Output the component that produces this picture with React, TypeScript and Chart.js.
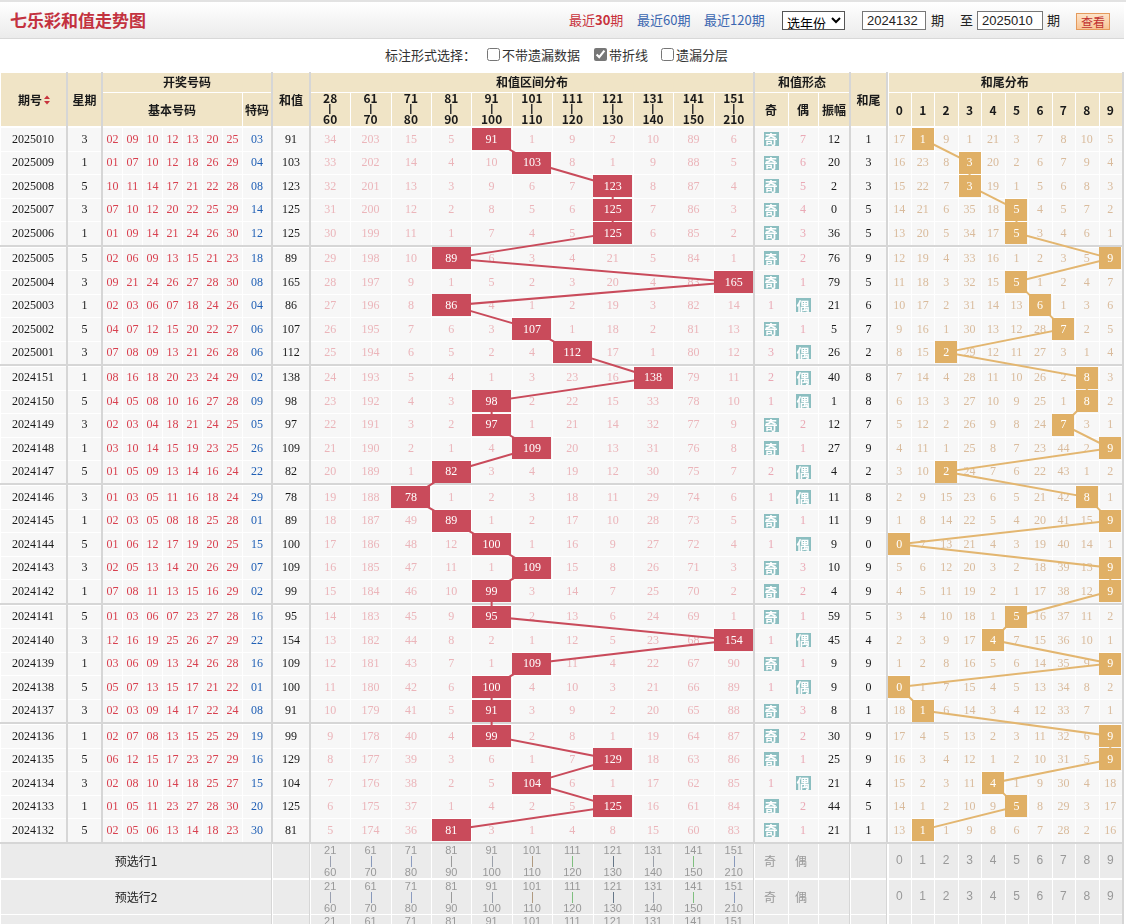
import React, { useEffect, useRef } from "react";
import { Chart, registerables } from "chart.js";

Chart.register(...registerables);

/* ================= DATA ================= */
const periods = ["2025010","2025009","2025008","2025007","2025006","2025005","2025004","2025003","2025002","2025001","2024151","2024150","2024149","2024148","2024147","2024146","2024145","2024144","2024143","2024142","2024141","2024140","2024139","2024138","2024137","2024136","2024135","2024134","2024133","2024132"];
const weekdays = [3,1,5,3,1,5,3,1,5,3,1,5,3,1,5,3,1,5,3,1,5,3,1,5,3,1,5,3,1,5];
const basicNumbers = [
  ["02","09","10","12","13","20","25"],
  ["01","07","10","12","18","26","29"],
  ["10","11","14","17","21","22","28"],
  ["07","10","12","20","22","25","29"],
  ["01","09","14","21","24","26","30"],
  ["02","06","09","13","15","21","23"],
  ["09","21","24","26","27","28","30"],
  ["02","03","06","07","18","24","26"],
  ["04","07","12","15","20","22","27"],
  ["07","08","09","13","21","26","28"],
  ["08","16","18","20","23","24","29"],
  ["04","05","08","10","16","27","28"],
  ["02","03","04","18","21","24","25"],
  ["03","10","14","15","19","23","25"],
  ["01","05","09","13","14","16","24"],
  ["01","03","05","11","16","18","24"],
  ["02","03","05","08","18","25","28"],
  ["01","06","12","17","19","20","25"],
  ["02","05","13","14","20","26","29"],
  ["07","08","11","13","15","16","29"],
  ["01","03","06","07","23","27","28"],
  ["12","16","19","25","26","27","29"],
  ["03","06","09","13","24","26","28"],
  ["05","07","13","15","17","21","22"],
  ["02","03","09","14","17","22","24"],
  ["02","07","08","13","15","25","29"],
  ["06","12","15","17","23","27","29"],
  ["02","08","10","14","18","25","27"],
  ["01","05","11","23","27","28","30"],
  ["02","05","06","13","14","18","23"],
];
const specialNumbers = ["03","04","08","14","12","18","08","04","06","06","02","09","05","26","22","29","01","15","07","02","16","22","16","01","08","19","16","15","20","30"];
const sums = [91,103,123,125,125,89,165,86,107,112,138,98,97,109,82,78,89,100,109,99,95,154,109,100,91,99,129,104,125,81];

const intervalRanges = [[28,60],[61,70],[71,80],[81,90],[91,100],[101,110],[111,120],[121,130],[131,140],[141,150],[151,210]];
const presetIntervalLabels = [["21","60"],["61","70"],["71","80"],["81","90"],["91","100"],["101","110"],["111","120"],["121","130"],["131","140"],["141","150"],["151","210"]];

// omission values of the sum-interval columns (0 = hit, the sum is shown there)
const intervalMiss = [
  [34,203,15,5,0,1,9,2,10,89,6],
  [33,202,14,4,10,0,8,1,9,88,5],
  [32,201,13,3,9,6,7,0,8,87,4],
  [31,200,12,2,8,5,6,0,7,86,3],
  [30,199,11,1,7,4,5,0,6,85,2],
  [29,198,10,0,6,3,4,21,5,84,1],
  [28,197,9,1,5,2,3,20,4,83,0],
  [27,196,8,0,4,1,2,19,3,82,14],
  [26,195,7,6,3,0,1,18,2,81,13],
  [25,194,6,5,2,4,0,17,1,80,12],
  [24,193,5,4,1,3,23,16,0,79,11],
  [23,192,4,3,0,2,22,15,33,78,10],
  [22,191,3,2,0,1,21,14,32,77,9],
  [21,190,2,1,4,0,20,13,31,76,8],
  [20,189,1,0,3,4,19,12,30,75,7],
  [19,188,0,1,2,3,18,11,29,74,6],
  [18,187,49,0,1,2,17,10,28,73,5],
  [17,186,48,12,0,1,16,9,27,72,4],
  [16,185,47,11,1,0,15,8,26,71,3],
  [15,184,46,10,0,3,14,7,25,70,2],
  [14,183,45,9,0,2,13,6,24,69,1],
  [13,182,44,8,2,1,12,5,23,68,0],
  [12,181,43,7,1,0,11,4,22,67,90],
  [11,180,42,6,0,4,10,3,21,66,89],
  [10,179,41,5,0,3,9,2,20,65,88],
  [9,178,40,4,0,2,8,1,19,64,87],
  [8,177,39,3,6,1,7,0,18,63,86],
  [7,176,38,2,5,0,6,1,17,62,85],
  [6,175,37,1,4,2,5,0,16,61,84],
  [5,174,36,0,3,1,4,8,15,60,83],
];
const oddMiss = [0,0,0,0,0,0,0,1,0,3,2,1,0,0,2,1,0,1,0,0,0,1,0,1,0,0,0,1,0,0];
const evenMiss = [7,6,5,4,3,2,1,0,1,0,0,0,2,1,0,0,1,0,3,2,1,0,1,0,3,2,1,0,2,1];
const amplitudes = [12,20,2,0,36,76,79,21,5,26,40,1,12,27,4,11,11,9,10,4,59,45,9,9,8,30,25,21,44,21];
const tailMiss = [
  [17,0,9,1,21,3,7,8,10,5],
  [16,23,8,0,20,2,6,7,9,4],
  [15,22,7,0,19,1,5,6,8,3],
  [14,21,6,35,18,0,4,5,7,2],
  [13,20,5,34,17,0,3,4,6,1],
  [12,19,4,33,16,1,2,3,5,0],
  [11,18,3,32,15,0,1,2,4,7],
  [10,17,2,31,14,13,0,1,3,6],
  [9,16,1,30,13,12,28,0,2,5],
  [8,15,0,29,12,11,27,3,1,4],
  [7,14,4,28,11,10,26,2,0,3],
  [6,13,3,27,10,9,25,1,0,2],
  [5,12,2,26,9,8,24,0,3,1],
  [4,11,1,25,8,7,23,44,2,0],
  [3,10,0,24,7,6,22,43,1,2],
  [2,9,15,23,6,5,21,42,0,1],
  [1,8,14,22,5,4,20,41,15,0],
  [0,7,13,21,4,3,19,40,14,1],
  [5,6,12,20,3,2,18,39,13,0],
  [4,5,11,19,2,1,17,38,12,0],
  [3,4,10,18,1,0,16,37,11,2],
  [2,3,9,17,0,7,15,36,10,1],
  [1,2,8,16,5,6,14,35,9,0],
  [0,1,7,15,4,5,13,34,8,2],
  [18,0,6,14,3,4,12,33,7,1],
  [17,4,5,13,2,3,11,32,6,0],
  [16,3,4,12,1,2,10,31,5,0],
  [15,2,3,11,0,1,9,30,4,18],
  [14,1,2,10,9,0,8,29,3,17],
  [13,0,1,9,8,6,7,28,2,16],
];
const tailDigits = ["0","1","2","3","4","5","6","7","8","9"];
const presetRows = ["预选行1", "预选行2", "预选行3"];

/* ================= LAYOUT / STYLE ================= */
const W = 1126;
const H = 852; // canvas height (page y 72 .. 924)
const ROW0 = 67; // first data row centre in canvas px
const ROW_H = 23.5;
const GROUP_GAP = 0.08;
const IV_X0 = 310, IV_W = 40.36;
const TL_X0 = 887.5, TL_W = 23.45;
const COL = {
  period: [0, 67], week: [67, 102], basic0: 102, basicW: 20, special: [242, 272], sum: [272, 310],
  odd: [754, 788], even: [788, 818], amp: [818, 850], tail: [850, 887], right: 1122,
};
const FOOT_TOPS = [771, 807, 842];
const FOOT_H = 35;

const C = {
  headBg: "#f0e4c6", cellBg: "#f7f7f7", footBg: "#ebebeb", sep: "#d6d6d6",
  red: "#c94b5b", gold: "#e0b066", goldLine: "#e3b670", teal: "#8bbec0",
  ivMiss: "#ebb5ba", tlMiss: "#d9bb9c", oeMiss: "#eaa9b5", basic: "#d8404f", special: "#1f5fb5", text: "#1a1a1a",
};
const F_NUM = '12px "Liberation Serif", "Times New Roman", serif';
const F_HEAD = 'bold 12px "Noto Sans CJK SC", sans-serif';
const F_CN = '12px "Noto Sans CJK SC", sans-serif';
const F_SMALL = '11px "Liberation Sans Narrow", "Liberation Sans", sans-serif';
const BAR_COLORS = ["#9aa0b0", "#8899bb", "#8c9cc0", "#9a9a9a", "#9aa0aa", "#b09a80", "#7fbf7f", "#667788", "#9aa0aa", "#7fbf7f", "#8899bb"];

const yv = (i: number) => i + GROUP_GAP * Math.floor(i / 5);
const bucketOf = (s: number) => intervalRanges.findIndex(([a, b]) => s >= a && s <= b);

function cell(ctx: any, x0: number, x1: number, y0: number, y1: number, color: string) {
  const a = Math.round(x0), b = Math.round(x1), c = Math.round(y0), d = Math.round(y1);
  ctx.fillStyle = color;
  ctx.fillRect(a + 1, c + 1, b - a - 1, d - c - 1);
}
function txt(ctx: any, s: string, x: number, y: number, font: string, color: string) {
  ctx.font = font;
  ctx.fillStyle = color;
  ctx.textAlign = "center";
  ctx.textBaseline = "middle";
  ctx.fillText(s, x, y);
}

const tablePlugin = {
  id: "trendTable",
  beforeDatasetsDraw(chart: any) {
    const ctx = chart.ctx;
    const xs = chart.scales.xs, xt = chart.scales.xt, y = chart.scales.y;
    const ivw = xs.getPixelForValue(1) - xs.getPixelForValue(0);
    const tlw = xt.getPixelForValue(1) - xt.getPixelForValue(0);
    ctx.save();
    ctx.fillStyle = "#fff";
    ctx.fillRect(0, 0, W, H);

    /* ---------- header ---------- */
    const h0 = 0, h1 = 20, h2 = 54;
    const hb = C.headBg;
    cell(ctx, COL.period[0], COL.period[1], h0, h2, hb);
    cell(ctx, COL.week[0], COL.week[1], h0, h2, hb);
    cell(ctx, COL.basic0, COL.special[1], h0, h1, hb);
    cell(ctx, COL.basic0, COL.special[0], h1, h2, hb);
    cell(ctx, COL.special[0], COL.special[1], h1, h2, hb);
    cell(ctx, COL.sum[0], COL.sum[1], h0, h2, hb);
    cell(ctx, IV_X0, COL.odd[0], h0, h1, hb);
    intervalRanges.forEach((_, c) => {
      const cx = xs.getPixelForValue(c);
      cell(ctx, cx - ivw / 2, cx + ivw / 2, h1, h2, hb);
    });
    cell(ctx, COL.odd[0], COL.amp[1], h0, h1, hb);
    cell(ctx, COL.odd[0], COL.odd[1], h1, h2, hb);
    cell(ctx, COL.even[0], COL.even[1], h1, h2, hb);
    cell(ctx, COL.amp[0], COL.amp[1], h1, h2, hb);
    cell(ctx, COL.tail[0], COL.tail[1], h0, h2, hb);
    cell(ctx, TL_X0, COL.right, h0, h1, hb);
    tailDigits.forEach((_, d) => {
      const cx = xt.getPixelForValue(d);
      cell(ctx, cx - tlw / 2, cx + tlw / 2, h1, h2, hb);
    });
    const mid = (a: number[]) => (a[0] + a[1]) / 2;
    txt(ctx, "期号", 30, 28, F_HEAD, C.text);
    // sort arrows
    ctx.fillStyle = "#c8323c";
    ctx.beginPath(); ctx.moveTo(44, 27); ctx.lineTo(50, 27); ctx.lineTo(47, 23.5); ctx.fill();
    ctx.beginPath(); ctx.moveTo(44, 29); ctx.lineTo(50, 29); ctx.lineTo(47, 32.5); ctx.fill();
    txt(ctx, "星期", mid(COL.week), 28, F_HEAD, C.text);
    txt(ctx, "开奖号码", (COL.basic0 + COL.special[1]) / 2, 10.5, F_HEAD, C.text);
    txt(ctx, "基本号码", (COL.basic0 + COL.special[0]) / 2, 38, F_HEAD, C.text);
    txt(ctx, "特码", mid(COL.special), 38, F_HEAD, C.text);
    txt(ctx, "和值", mid(COL.sum), 28, F_HEAD, C.text);
    txt(ctx, "和值区间分布", (IV_X0 + COL.odd[0]) / 2, 10.5, F_HEAD, C.text);
    intervalRanges.forEach(([a, b], c) => {
      const cx = xs.getPixelForValue(c);
      txt(ctx, String(a), cx, 26.5, F_HEAD, C.text);
      ctx.fillStyle = "#333";
      ctx.fillRect(Math.round(cx) - 1, 32, 1.5, 10);
      txt(ctx, String(b), cx, 47, F_HEAD, C.text);
    });
    txt(ctx, "和值形态", (COL.odd[0] + COL.amp[1]) / 2, 10.5, F_HEAD, C.text);
    txt(ctx, "奇", mid(COL.odd), 38, F_HEAD, C.text);
    txt(ctx, "偶", mid(COL.even), 38, F_HEAD, C.text);
    txt(ctx, "振幅", mid(COL.amp), 38, F_HEAD, C.text);
    txt(ctx, "和尾", mid(COL.tail), 28, F_HEAD, C.text);
    txt(ctx, "和尾分布", (TL_X0 + COL.right) / 2, 10.5, F_HEAD, C.text);
    tailDigits.forEach((d, k) => txt(ctx, d, xt.getPixelForValue(k), 38, F_HEAD, C.text));

    /* ---------- body ---------- */
    let lastBottom = 0;
    periods.forEach((p, i) => {
      const cy = y.getPixelForValue(yv(i));
      const y0 = cy - ROW_H / 2, y1 = cy + ROW_H / 2;
      lastBottom = y1;
      const bg = C.cellBg;
      cell(ctx, COL.period[0], COL.period[1], y0, y1, bg);
      cell(ctx, COL.week[0], COL.week[1], y0, y1, bg);
      for (let k = 0; k < 7; k++) cell(ctx, COL.basic0 + k * COL.basicW, COL.basic0 + (k + 1) * COL.basicW, y0, y1, bg);
      cell(ctx, COL.special[0], COL.special[1], y0, y1, bg);
      cell(ctx, COL.sum[0], COL.sum[1], y0, y1, bg);
      intervalRanges.forEach((_, c) => {
        const cx = xs.getPixelForValue(c);
        cell(ctx, cx - ivw / 2, cx + ivw / 2, y0, y1, bg);
      });
      cell(ctx, COL.odd[0], COL.odd[1], y0, y1, bg);
      cell(ctx, COL.even[0], COL.even[1], y0, y1, bg);
      cell(ctx, COL.amp[0], COL.amp[1], y0, y1, bg);
      cell(ctx, COL.tail[0], COL.tail[1], y0, y1, bg);
      tailDigits.forEach((_, d) => {
        const cx = xt.getPixelForValue(d);
        cell(ctx, cx - tlw / 2, cx + tlw / 2, y0, y1, bg);
      });

      const ty = cy + 0.5;
      txt(ctx, p, 33, ty, F_NUM, C.text);
      txt(ctx, String(weekdays[i]), mid(COL.week), ty, F_NUM, C.text);
      basicNumbers[i].forEach((n, k) => txt(ctx, n, COL.basic0 + (k + 0.5) * COL.basicW + 0.5, ty, F_NUM, C.basic));
      txt(ctx, specialNumbers[i], mid(COL.special), ty, F_NUM, C.special);
      txt(ctx, String(sums[i]), mid(COL.sum), ty, F_NUM, C.text);
      intervalMiss[i].forEach((m, c) => {
        if (m > 0) txt(ctx, String(m), xs.getPixelForValue(c), ty, F_NUM, C.ivMiss);
      });
      if (oddMiss[i] > 0) txt(ctx, String(oddMiss[i]), mid(COL.odd), ty, F_NUM, C.oeMiss);
      if (evenMiss[i] > 0) txt(ctx, String(evenMiss[i]), mid(COL.even), ty, F_NUM, C.oeMiss);
      txt(ctx, String(amplitudes[i]), mid(COL.amp), ty, F_NUM, C.text);
      txt(ctx, String(sums[i] % 10), mid(COL.tail), ty, F_NUM, C.text);
      tailMiss[i].forEach((m, d) => {
        if (m > 0 || d !== sums[i] % 10) txt(ctx, String(m), xt.getPixelForValue(d), ty, F_NUM, C.tlMiss);
      });
    });

    // group separators
    ctx.fillStyle = C.sep;
    for (let g = 1; g <= 6; g++) {
      const a = y.getPixelForValue(yv(5 * g - 1)) + ROW_H / 2;
      const b = g < 6 ? y.getPixelForValue(yv(5 * g)) - ROW_H / 2 : a + 2;
      ctx.fillRect(0, Math.round((a + b) / 2) - 1, COL.right, 2);
    }
    // vertical separators
    [67, 102, 272, 310, 754, 850, 887].forEach((x) => ctx.fillRect(x - 1, 0, 2, Math.round(lastBottom) + 2));
    ctx.fillRect(COL.right, 0, 2, H);

    /* ---------- footer (预选行) ---------- */
    FOOT_TOPS.forEach((t, f) => {
      const b = t + FOOT_H;
      const fb = C.footBg;
      cell(ctx, 0, COL.sum[0], t, b, fb);
      cell(ctx, COL.sum[0], COL.sum[1], t, b, fb);
      intervalRanges.forEach((_, c) => {
        const cx = xs.getPixelForValue(c);
        cell(ctx, cx - ivw / 2, cx + ivw / 2, t, b, fb);
      });
      cell(ctx, COL.odd[0], COL.odd[1], t, b, fb);
      cell(ctx, COL.even[0], COL.even[1], t, b, fb);
      cell(ctx, COL.amp[0], COL.amp[1], t, b, fb);
      cell(ctx, COL.tail[0], COL.tail[1], t, b, fb);
      tailDigits.forEach((_, d) => {
        const cx = xt.getPixelForValue(d);
        cell(ctx, cx - tlw / 2, cx + tlw / 2, t, b, fb);
      });
      txt(ctx, presetRows[f], COL.sum[0] / 2, t + 18, F_CN, "#222");
      presetIntervalLabels.forEach(([a, bb], c) => {
        const cx = xs.getPixelForValue(c);
        txt(ctx, a, cx, t + 7.5, F_SMALL, "#999");
        ctx.fillStyle = BAR_COLORS[c];
        ctx.fillRect(Math.round(cx), t + 13, 1, 11);
        txt(ctx, bb, cx, t + 30, F_SMALL, "#999");
      });
      txt(ctx, "奇", mid(COL.odd) - 1, t + 18, F_CN, "#999");
      txt(ctx, "偶", mid(COL.even) - 2, t + 18, F_CN, "#999");
      tailDigits.forEach((d, k) => txt(ctx, d, xt.getPixelForValue(k), t + 18, '12px "Liberation Sans Narrow", "Liberation Sans", sans-serif', "#999"));
    });
    ctx.fillStyle = C.sep;
    [272, 310, 754, 850, 887].forEach((x) => ctx.fillRect(x - 1, FOOT_TOPS[0], 1, H - FOOT_TOPS[0]));
    ctx.restore();
  },
  afterDatasetsDraw(chart: any) {
    const ctx = chart.ctx;
    const xs = chart.scales.xs, xt = chart.scales.xt, y = chart.scales.y;
    ctx.save();
    sums.forEach((s, i) => {
      const cy = y.getPixelForValue(yv(i));
      // sum-interval box
      const bx = xs.getPixelForValue(bucketOf(s));
      ctx.fillStyle = C.red;
      ctx.fillRect(Math.round(bx - 19.5), Math.round(cy - 11), 39, 22);
      txt(ctx, String(s), bx, cy + 0.5, F_NUM, "#fff");
      // tail box
      const tx = xt.getPixelForValue(s % 10);
      ctx.fillStyle = C.gold;
      ctx.fillRect(Math.round(tx - 11), Math.round(cy - 11), 22, 22);
      txt(ctx, String(s % 10), tx, cy + 0.5, F_NUM, "#fff");
      // odd / even tag
      const odd = s % 2 === 1;
      const ox = odd ? (COL.odd[0] + COL.odd[1]) / 2 : (COL.even[0] + COL.even[1]) / 2;
      ctx.fillStyle = C.teal;
      ctx.fillRect(Math.round(ox - 7.5), Math.round(cy - 7), 15, 14);
      txt(ctx, odd ? "奇" : "偶", ox, cy + 0.5, 'bold 13px "Noto Sans CJK SC", sans-serif', "#fff");
    });
    ctx.restore();
  },
};

export default function App() {
  const ref = useRef<HTMLCanvasElement | null>(null);
  useEffect(() => {
    document.body.style.margin = "0";
    const canvas = ref.current as HTMLCanvasElement;
    const sumPoints = sums.map((s, i) => ({ x: bucketOf(s), y: yv(i) }));
    const tailPoints = sums.map((s, i) => ({ x: s % 10, y: yv(i) }));
    const chart = new Chart(canvas, {
      type: "line",
      data: {
        datasets: [
          { label: "和值", data: sumPoints, xAxisID: "xs", yAxisID: "y", borderColor: C.red, borderWidth: 2, pointRadius: 0, tension: 0, fill: false } as any,
          { label: "和尾", data: tailPoints, xAxisID: "xt", yAxisID: "y", borderColor: C.goldLine, borderWidth: 2, pointRadius: 0, tension: 0, fill: false } as any,
        ],
      },
      options: {
        animation: false,
        responsive: false,
        devicePixelRatio: 1,
        events: [],
        layout: { padding: 0 },
        plugins: { legend: { display: false }, tooltip: { enabled: false } },
        scales: {
          xs: { type: "linear", display: false, min: -(IV_X0 + IV_W / 2) / IV_W, max: (W - IV_X0 - IV_W / 2) / IV_W },
          xt: { type: "linear", display: false, min: -(TL_X0 + TL_W / 2) / TL_W, max: (W - TL_X0 - TL_W / 2) / TL_W },
          y: { type: "linear", display: false, reverse: true, min: -ROW0 / ROW_H, max: (H - ROW0) / ROW_H },
        },
      } as any,
      plugins: [tablePlugin as any],
    });
    return () => chart.destroy();
  }, []);

  const abs = (left: number, top: number, extra: any = {}) => ({ position: "absolute" as const, left, top, whiteSpace: "nowrap" as const, ...extra });
  const inputStyle = { width: 64, height: 19, boxSizing: "border-box" as const, border: "1px solid #777", fontSize: 13, padding: "0 4px", fontFamily: '"Liberation Sans", sans-serif', color: "#222", background: "#fff", margin: 0 };
  return (
    <div style={{ position: "relative", width: 1126, height: 924, overflow: "hidden", background: "#fff", fontFamily: '"Noto Sans CJK SC", sans-serif', color: "#333" }}>
      <div style={abs(0, 0, { width: 1126, height: 2, background: "#e2e2e2" })} />
      <div style={abs(0, 2, { width: 1124, height: 36, background: "linear-gradient(#ffffff, #ebebeb)", borderBottom: "1px solid #d8d8d8" })} />
      <div style={abs(10, 9, { fontSize: 17, fontWeight: 700, color: "#c3323f", lineHeight: "22px" })}>七乐彩和值走势图</div>
      <span style={abs(569, 11, { fontSize: 13, lineHeight: "18px", color: "#c8323c" })}>最近<b>30</b>期</span>
      <span style={abs(637, 11, { fontSize: 13, lineHeight: "18px", color: "#3a66b0" })}>最近60期</span>
      <span style={abs(704, 11, { fontSize: 13, lineHeight: "18px", color: "#3a66b0" })}>最近120期</span>
      <select style={abs(782, 11, { width: 63, height: 19, fontSize: 13, padding: 0, margin: 0, border: "1px solid #555", background: "#fff", fontFamily: '"Noto Sans CJK SC", sans-serif' })} defaultValue="y">
        <option value="y">选年份</option>
      </select>
      <input readOnly value="2024132" style={abs(862, 11, inputStyle)} />
      <span style={abs(931, 11, { fontSize: 13, lineHeight: "18px", color: "#222" })}>期</span>
      <span style={abs(960, 11, { fontSize: 13, lineHeight: "18px", color: "#222" })}>至</span>
      <input readOnly value="2025010" style={abs(977, 11, { ...inputStyle, width: 66 })} />
      <span style={abs(1047, 11, { fontSize: 13, lineHeight: "18px", color: "#222" })}>期</span>
      <div style={abs(1076, 13, { width: 34, height: 17, boxSizing: "border-box", background: "linear-gradient(#fde3c8, #f8c496)", border: "1px solid #e59a5c", color: "#c03030", fontSize: 12, lineHeight: "15px", textAlign: "center" })}>查看</div>

      <span style={abs(385, 46, { fontSize: 13, lineHeight: "18px", color: "#333" })}>标注形式选择：</span>
      <input type="checkbox" readOnly style={abs(487, 48, { margin: 0, width: 13, height: 13 })} />
      <span style={abs(502, 46, { fontSize: 13, lineHeight: "18px", color: "#333" })}>不带遗漏数据</span>
      <input type="checkbox" readOnly checked style={abs(594, 48, { margin: 0, width: 13, height: 13, accentColor: "#777" })} />
      <span style={abs(609, 46, { fontSize: 13, lineHeight: "18px", color: "#333" })}>带折线</span>
      <input type="checkbox" readOnly style={abs(661, 48, { margin: 0, width: 13, height: 13 })} />
      <span style={abs(676, 46, { fontSize: 13, lineHeight: "18px", color: "#333" })}>遗漏分层</span>

      <div style={abs(0, 72, { width: W, height: H })}>
        <canvas ref={ref} width={W} height={H} style={{ display: "block", width: W, height: H }} />
      </div>
    </div>
  );
}
